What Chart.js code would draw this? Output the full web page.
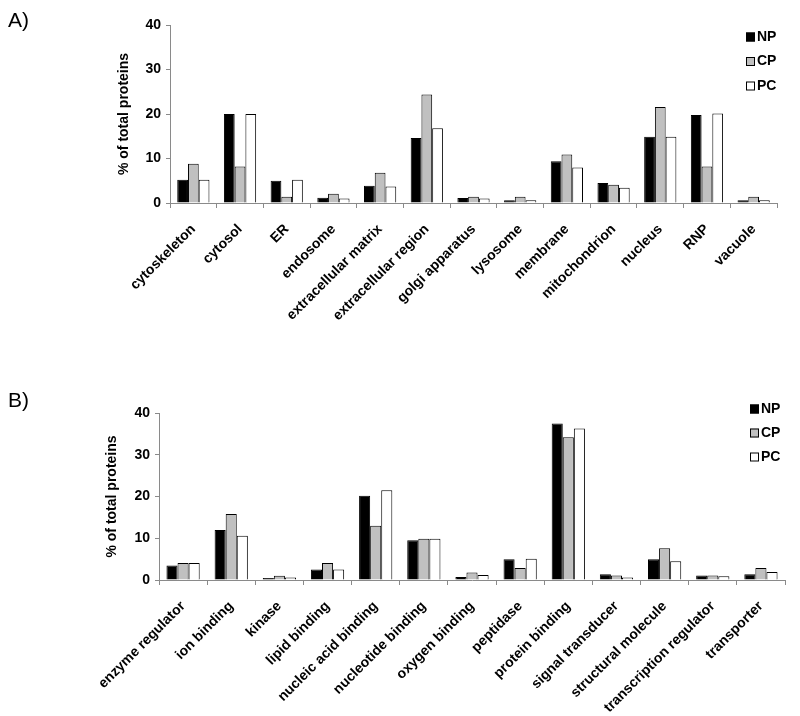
<!DOCTYPE html>
<html>
<head>
<meta charset="utf-8">
<script src="https://cdn.jsdelivr.net/npm/chart.js@4.4.2/dist/chart.umd.min.js"></script>
<style>
  body { margin: 0; background: #fff; }
  .panel { position: absolute; left: 0; width: 800px; height: 358px; }
  .tag { position: absolute; left: 8px; font: 21px 'Liberation Sans', Arial, sans-serif; color: #000; }
</style>
</head>
<body>
<div class="panel" style="top:0"><canvas id="chartA"></canvas></div>
<div class="panel" style="top:358px"><canvas id="chartB"></canvas></div>
<div class="tag" style="top:8px">A)</div>
<div class="tag" style="top:388px">B)</div>
<script>
const SERIES = ['NP', 'CP', 'PC'];

const componentLabels = ['cytoskeleton', 'cytosol', 'ER', 'endosome', 'extracellular matrix', 'extracellular region',
  'golgi apparatus', 'lysosome', 'membrane', 'mitochondrion', 'nucleus', 'RNP', 'vacuole'];
const componentNP = [5.2, 20.0, 5.0, 1.2, 3.9, 14.6, 1.1, 0.6, 9.4, 4.5, 14.9, 19.8, 0.6];
const componentCP = [8.8, 8.2, 1.4, 2.1, 6.8, 24.4, 1.4, 1.4, 10.9, 4.1, 21.6, 8.2, 1.4];
const componentPC = [5.2, 20.0, 5.2, 1.0, 3.7, 16.8, 1.0, 0.6, 8.0, 3.4, 14.9, 20.1, 0.6];

const functionLabels = ['enzyme regulator', 'ion binding', 'kinase', 'lipid binding', 'nucleic acid binding',
  'nucleotide binding', 'oxygen binding', 'peptidase', 'protein binding', 'signal transducer',
  'structural molecule', 'transcription regulator', 'transporter'];
const functionNP = [3.5, 12.0, 0.5, 2.5, 20.2, 9.5, 0.7, 5.0, 37.5, 1.4, 5.0, 1.1, 1.4];
const functionCP = [4.1, 15.8, 1.0, 4.1, 13.0, 9.9, 1.8, 2.9, 34.2, 1.1, 7.6, 1.1, 2.9];
const functionPC = [4.1, 10.6, 0.6, 2.5, 21.5, 9.9, 1.2, 5.1, 36.3, 0.6, 4.5, 0.9, 1.9];

const yTicks = [0, 10, 20, 30, 40];

const FILLS = ['#000000', '#c0c0c0', '#ffffff'];
const FONT = "'Liberation Sans', Arial, sans-serif";
const AXIS = '#8a8a8a';

// legend drawn by hand: boxes + bold labels, stacked at top right
const boxLegend = {
  id: 'boxLegend',
  afterDraw(chart, args, opts) {
    const ctx = chart.ctx;
    ctx.save();
    ctx.font = `bold 14px ${FONT}`;
    ctx.textBaseline = 'middle';
    chart.data.datasets.forEach((ds, i) => {
      const y = opts.y + i * opts.gap;
      ctx.fillStyle = ds.backgroundColor;
      ctx.fillRect(opts.x, y - 4.5, 9, 9);
      ctx.strokeStyle = '#000';
      ctx.lineWidth = 1;
      ctx.strokeRect(opts.x + 0.5, y - 4, 8, 8);
      ctx.fillStyle = '#000';
      ctx.fillText(ds.label, opts.x + 11, y);
    });
    ctx.restore();
  }
};

function makeChart(id, labels, values, cfg) {
  return new Chart(document.getElementById(id), {
    type: 'bar',
    data: {
      labels: labels,
      datasets: values.map((v, i) => ({
        label: SERIES[i],
        data: v,
        backgroundColor: FILLS[i],
        borderColor: '#000',
        borderWidth: 1
      }))
    },
    plugins: [boxLegend],
    options: {
      responsive: true,
      maintainAspectRatio: false,
      animation: false,
      categoryPercentage: 0.69,
      barPercentage: 1.0,
      layout: {
        padding: { left: cfg.padLeft, right: cfg.padRight, top: cfg.padTop, bottom: 0 }
      },
      plugins: {
        legend: { display: false },
        tooltip: { enabled: false },
        boxLegend: cfg.legend
      },
      scales: {
        x: {
          afterFit: scale => { scale.height = cfg.xHeight; },
          border: { color: AXIS },
          grid: { drawOnChartArea: false, color: AXIS, tickLength: 5, offset: true },
          ticks: {
            color: '#000',
            font: { family: FONT, size: 14, weight: 'bold' },
            minRotation: 45,
            maxRotation: 45,
            autoSkip: false,
            padding: 13
          }
        },
        y: {
          min: 0,
          max: 40,
          afterFit: scale => { scale.width = cfg.yWidth; },
          afterBuildTicks: scale => { scale.ticks = yTicks.map(v => ({ value: v })); },
          border: { color: AXIS },
          grid: { drawOnChartArea: false, color: AXIS, tickLength: 4 },
          ticks: {
            color: '#000',
            font: { family: FONT, size: 14, weight: 'bold' },
            padding: 5
          },
          title: {
            display: true,
            text: '% of total proteins',
            color: '#000',
            font: { family: FONT, size: 14, weight: 'bold' },
            padding: { top: 4, bottom: 0 }
          }
        }
      }
    }
  });
}

makeChart('chartA', componentLabels, [componentNP, componentCP, componentPC], {
  padLeft: 112, padRight: 23, padTop: 25, xHeight: 155, yWidth: 58,
  legend: { x: 746, y: 37, gap: 24.5 }
});

makeChart('chartB', functionLabels, [functionNP, functionCP, functionPC], {
  padLeft: 100, padRight: 15, padTop: 55, xHeight: 136, yWidth: 59,
  legend: { x: 750, y: 51, gap: 24 }
});
</script>
</body>
</html>
